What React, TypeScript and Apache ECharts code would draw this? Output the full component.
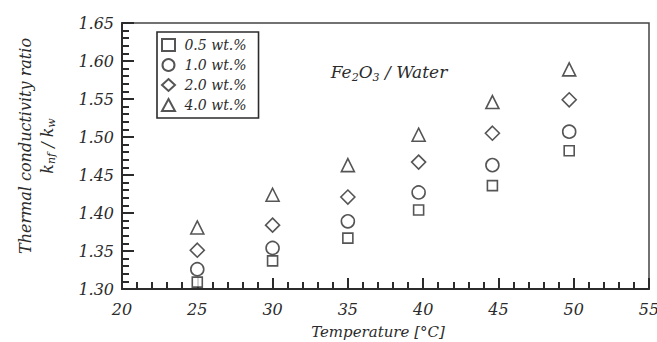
import React, { useEffect, useRef } from "react";
import * as echarts from "echarts";

const temps = [25, 30, 35, 39.7, 44.6, 49.7];
const seriesNames = ["0.5 wt.%", "1.0 wt.%", "2.0 wt.%", "4.0 wt.%"];
const s05 = [1.309, 1.337, 1.367, 1.404, 1.436, 1.482];
const s10 = [1.326, 1.354, 1.389, 1.427, 1.463, 1.507];
const s20 = [1.351, 1.384, 1.421, 1.467, 1.505, 1.549];
const s40 = [1.381, 1.424, 1.463, 1.503, 1.546, 1.589];
const seriesValues = [s05, s10, s20, s40];
const symbols = ["rect", "circle", "diamond", "triangle"];
const symbolSizes = [10, 13, 14, 13];

const FONT = "DejaVu Serif";
const INK = "#2b2b2b";

export default function App() {
  const ref = useRef<HTMLDivElement>(null);
  useEffect(() => {
    if (!ref.current) return;
    const chart = echarts.init(ref.current, undefined, { renderer: "svg" });
    const series = seriesNames.map((name, k) => ({
      type: "scatter",
      name,
      symbol: symbols[k],
      symbolSize: symbolSizes[k],
      itemStyle: { color: "#ffffff", borderColor: INK, borderWidth: 1.6 },
      data: temps.map((t, i) => [t, seriesValues[k][i]]),
    }));
    chart.setOption({
      animation: false,
      backgroundColor: "#ffffff",
      grid: {
        left: 122,
        top: 23,
        width: 527,
        height: 266,
        outerBoundsMode: "none",
        show: true,
        borderColor: "#444",
        borderWidth: 1.5,
      },
      xAxis: {
        type: "value",
        min: 20,
        max: 55,
        interval: 5,
        axisLine: { show: true, onZero: false, lineStyle: { color: INK, width: 2 } },
        axisTick: { show: true, inside: true, length: 11, lineStyle: { color: INK, width: 2 } },
        minorTick: { show: true, splitNumber: 5, length: 7, lineStyle: { color: INK, width: 2 } },
        splitLine: { show: false },
        axisLabel: { color: INK, fontFamily: FONT, fontStyle: "italic", fontSize: 16, margin: 12 },
      },
      yAxis: {
        type: "value",
        min: 1.3,
        max: 1.65,
        interval: 0.05,
        axisLine: { show: true, onZero: false, lineStyle: { color: INK, width: 2 } },
        axisTick: { show: true, inside: true, length: 12, lineStyle: { color: INK, width: 2 } },
        minorTick: { show: true, splitNumber: 5, length: 7, lineStyle: { color: INK, width: 2 } },
        splitLine: { show: false },
        axisLabel: {
          color: INK,
          fontFamily: FONT,
          fontStyle: "italic",
          fontSize: 16,
          formatter: (v: number) => v.toFixed(2),
        },
      },
      legend: {
        orient: "vertical",
        left: 157,
        top: 32,
        padding: [6, 12, 6, 4],
        itemWidth: 13,
        itemHeight: 12,
        itemGap: 6,
        borderColor: INK,
        borderWidth: 1.6,
        data: seriesNames,
        formatter: (name: string) => " " + name,
        textStyle: { color: INK, fontFamily: FONT, fontStyle: "italic", fontSize: 14 },
      },
      graphic: [
        {
          type: "text",
          x: 25,
          y: 146,
          rotation: Math.PI / 2,
          style: {
            text: "Thermal conductivity ratio",
            font: `italic 16px ${FONT}`,
            fill: INK,
            align: "center",
            verticalAlign: "middle",
          },
        },
        {
          type: "text",
          x: 47,
          y: 146,
          rotation: Math.PI / 2,
          style: {
            text: "{a|k}{s|nf}{a| / k}{s|w}",
            align: "center",
            verticalAlign: "middle",
            rich: {
              a: { fontFamily: FONT, fontStyle: "italic", fontSize: 16, lineHeight: 20, fill: INK },
              s: { fontFamily: FONT, fontStyle: "italic", fontSize: 11, lineHeight: 12, verticalAlign: "bottom", fill: INK },
            },
          },
        },
        {
          type: "text",
          x: 389,
          y: 72,
          style: {
            text: "{a|Fe}{s|2}{a|O}{s|3}{a| / Water}",
            align: "center",
            verticalAlign: "middle",
            rich: {
              a: { fontFamily: FONT, fontStyle: "italic", fontSize: 17, lineHeight: 22, fill: INK },
              s: { fontFamily: FONT, fontStyle: "italic", fontSize: 11, lineHeight: 14, verticalAlign: "bottom", fill: INK },
            },
          },
        },
        {
          type: "text",
          x: 378,
          y: 332,
          style: {
            text: "Temperature [°C]",
            font: `italic 15px ${FONT}`,
            fill: INK,
            align: "center",
            verticalAlign: "middle",
          },
        },
      ],
      series,
    });
    return () => chart.dispose();
  }, []);
  return <div ref={ref} style={{ width: 657, height: 342, position: "fixed", left: 0, top: 0 }} />;
}
